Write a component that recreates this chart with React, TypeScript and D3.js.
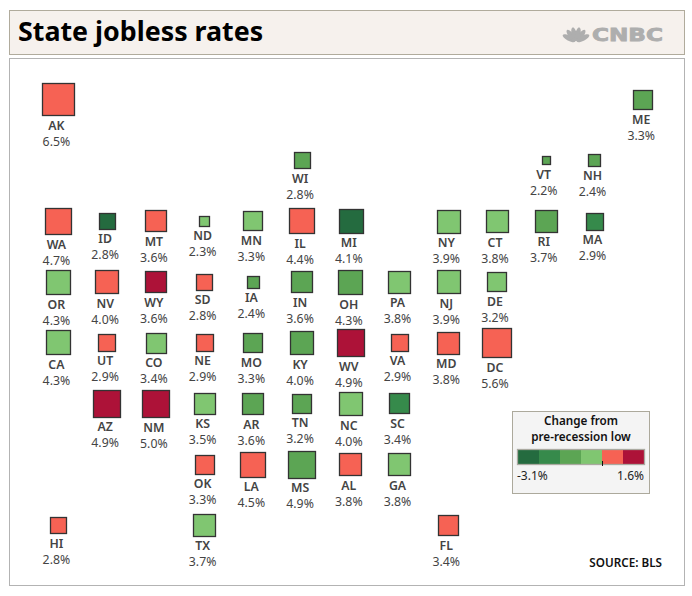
import React from "react";
import * as d3 from "d3";

const states = ["AK","ME","WI","VT","NH","WA","ID","MT","ND","MN","IL","MI","NY","CT","RI","MA","OR","NV","WY","SD","IA","IN","OH","PA","NJ","DE","CA","UT","CO","NE","MO","KY","WV","VA","MD","DC","AZ","NM","KS","AR","TN","NC","SC","OK","LA","MS","AL","GA","HI","TX","FL"];
const rates = [6.5,3.3,2.8,2.2,2.4,4.7,2.8,3.6,2.3,3.3,4.4,4.1,3.9,3.8,3.7,2.9,4.3,4.0,3.6,2.8,2.4,3.6,4.3,3.8,3.9,3.2,4.3,2.9,3.4,2.9,3.3,4.0,4.9,2.9,3.8,5.6,4.9,5.0,3.5,3.6,3.2,4.0,3.4,3.3,4.5,4.9,3.8,3.8,2.8,3.7,3.4];
const changeBins = [4,2,2,2,2,4,0,4,3,3,4,0,3,3,2,1,3,4,5,4,2,2,2,3,3,3,3,4,3,4,2,2,5,4,4,4,5,5,3,2,2,3,1,4,4,2,4,3,4,3,4];
const gridCols = [0,12,5,10,11,0,1,2,3,4,5,6,8,9,10,11,0,1,2,3,4,5,6,7,8,9,0,1,2,3,4,5,6,7,8,9,1,2,3,4,5,6,7,3,4,5,6,7,0,3,8];
const gridRows = [0,0,1,1,1,2,2,2,2,2,2,2,2,2,2,2,3,3,3,3,3,3,3,3,3,3,4,4,4,4,4,4,4,4,4,4,5,5,5,5,5,5,5,6,6,6,6,6,7,7,7];
const binColors = ["#246b3f","#368a4b","#5ca554","#80c671","#f66254","#ad1238"];
const binIndex = [0,1,2,3,4,5];
const legendLow = "-3.1%";
const legendHigh = "1.6%";
const FONT = "'Noto Sans', sans-serif";
const colIdx = d3.range(13);
const rowIdx = d3.range(8);
const RATE_FLOOR = 2.1;

export default function App() {
  const x = d3.scalePoint<number>().domain(colIdx).range([57.6, 642.4]);
  const y = d3.scalePoint<number>().domain(rowIdx).range([98.8, 524.6]);
  const size = d3.scalePow().exponent(0.4).domain([0, 6.5 - RATE_FLOOR]).range([0, 31]);
  const color = d3.scaleOrdinal<number, string>().domain(binIndex).range(binColors);
  const legendX = d3.scaleBand<number>().domain(binIndex).range([518, 644]);
  return (
    <svg width={692} height={596} style={{ position: "absolute", left: 0, top: 0, background: "#fff" }} fontFamily={FONT}>
      <rect x={9.5} y={10.5} width={675} height={44} fill="#f6f1ed" stroke="#b0ab9c" />
      <text x={18} y={41} fontSize={26.8} fontWeight={700} fill="#000">State jobless rates</text>
      <g fill="#aeaeae">
        {[-62, -37, -13, 13, 37, 62].map((a) => (
          <ellipse key={a} cx={0} cy={-8} rx={2.6} ry={7} transform={`translate(576,42) rotate(${a})`} />
        ))}
        <text x={592} y={40.5} fontFamily="'DejaVu Sans', sans-serif" fontSize={17} fontWeight={700} stroke="#aeaeae" strokeWidth={0.8} textLength={71} lengthAdjust="spacingAndGlyphs">CNBC</text>
      </g>
      <rect x={9.5} y={58.5} width={675} height={527} fill="#fff" stroke="#b3b3b3" />
      {states.map((s, i) => {
        const d = size(rates[i] - RATE_FLOOR);
        const cx = x(gridCols[i])!;
        const cy = y(gridRows[i])!;
        const bottom = cy + d / 2 + 1;
        return (
          <g key={s}>
            <rect x={Math.round(cx - d / 2) + 0.5} y={Math.round(cy - d / 2) + 0.5} width={Math.round(d) + 1} height={Math.round(d) + 1} fill={color(changeBins[i])} stroke="#333" strokeWidth={1.3} />
            <text x={cx - 1.2} y={bottom + 14.5} textAnchor="middle" fontSize={12.3} fontWeight={600} fill="#444">{s}</text>
            <text x={cx - 1.2} y={bottom + 30.5} textAnchor="middle" fontSize={12.3} fill="#444">{rates[i].toFixed(1)}%</text>
          </g>
        );
      })}
      <rect x={512.5} y={411.5} width={137} height={82} fill="#f4f4f4" stroke="#aca99c" />
      <text x={581} y={425} textAnchor="middle" fontSize={11.7} fontWeight={600} fill="#111">Change from</text>
      <text x={581} y={441} textAnchor="middle" fontSize={11.7} fontWeight={600} fill="#111">pre-recession low</text>
      {binIndex.map((b) => (
        <rect key={b} x={legendX(b)} y={450} width={legendX.bandwidth()} height={14} fill={color(b)} />
      ))}
      <rect x={517.5} y={449.5} width={127} height={15} fill="none" stroke="#aaa9a0" strokeWidth={1.3} />
      <line x1={602.5} x2={602.5} y1={461} y2={466} stroke="#111" />
      <text x={517} y={480} fontSize={12} fill="#222">{legendLow}</text>
      <text x={644} y={480} textAnchor="end" fontSize={12} fill="#222">{legendHigh}</text>
      <text x={662} y={567} textAnchor="end" fontSize={11.7} fontWeight={600} fill="#111">SOURCE: BLS</text>
    </svg>
  );
}
